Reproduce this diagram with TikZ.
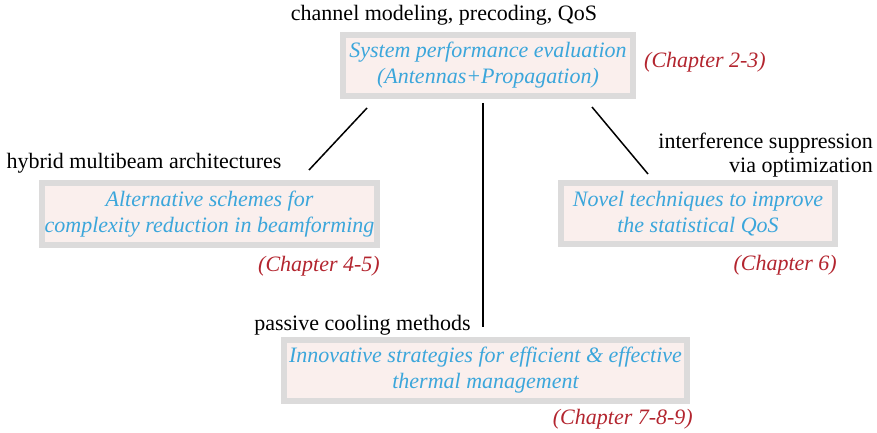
\documentclass[tikz,border=0pt]{standalone}
\usepackage{fontspec}
\setmainfont{Liberation Serif}
\usetikzlibrary{calc,positioning}
\definecolor{boxF}{HTML}{FAEFED}
\definecolor{boxD}{HTML}{DCDBDB}
\definecolor{topicC}{HTML}{3BA6DB}
\definecolor{chapC}{HTML}{B3252F}
\tikzset{
  topic/.style={draw=boxD, fill=boxF, line width=6pt, inner sep=0pt, align=center,
                text=topicC, font=\fontsize{22}{26}\selectfont\itshape},
  chap/.style={text=chapC, inner sep=0pt, font=\fontsize{22}{26}\selectfont\itshape},
  keyw/.style={inner sep=0pt, font=\fontsize{22}{24}\selectfont},
  link/.style={draw=black, line width=1.5pt},
}

\begin{document}
\begin{tikzpicture}[x=1pt, y=-1pt]
\useasboundingbox (0,0) rectangle (877,433);
\node[topic, minimum width=290pt, minimum height=61pt] (sys) at (488,65.5) {System performance evaluation\\(Antennas+Propagation)};
\node[topic, minimum width=335pt, minimum height=62pt] (alt) at (209.5,214) {Alternative schemes for\\complexity reduction in beamforming};
\node[topic, minimum width=274pt, minimum height=61pt] (nov) at (698,213.5) {Novel techniques to improve\\the statistical QoS};
\node[topic, minimum width=403pt, minimum height=61pt] (inn) at (485.5,370.5) {Innovative strategies for efficient \& effective\\thermal management};
% chapters
\node[chap, anchor=west] (ch23) at ($(sys.east)+(8,-3)$) {(Chapter 2-3)};
\node[chap, anchor=east] (ch45) at ($(alt.south east)+(0,18)$) {(Chapter 4-5)};
\node[chap, anchor=east] (ch6) at ($(nov.south east)+(-1,18)$) {(Chapter 6)};
\node[chap, anchor=east] (ch789) at ($(inn.south east)+(3,15)$) {(Chapter 7-8-9)};
% keywords
\node[keyw] (kwsys) at (444,15) {channel modeling, precoding, QoS};
\node[keyw] (kwalt) at (144,163) {hybrid multibeam architectures};
\node[keyw, align=right, anchor=east] (kwnov) at (873,155) {interference suppression\\via optimization};
\node[keyw] (kwinn) at (362.5,325) {passive cooling methods};
\draw[link] ($(sys.south west)+(27,9)$) -- ($(alt.north east)+(-71,-10)$);
\draw[link] ($(sys.south east)+(-44,8)$) -- ($(nov.north west)+(90,-6)$);
\draw[link] ($(sys.south)+(-5,4)$) -- ($(inn.north)+(-2.5,-10)$);
\end{tikzpicture}
\end{document}
